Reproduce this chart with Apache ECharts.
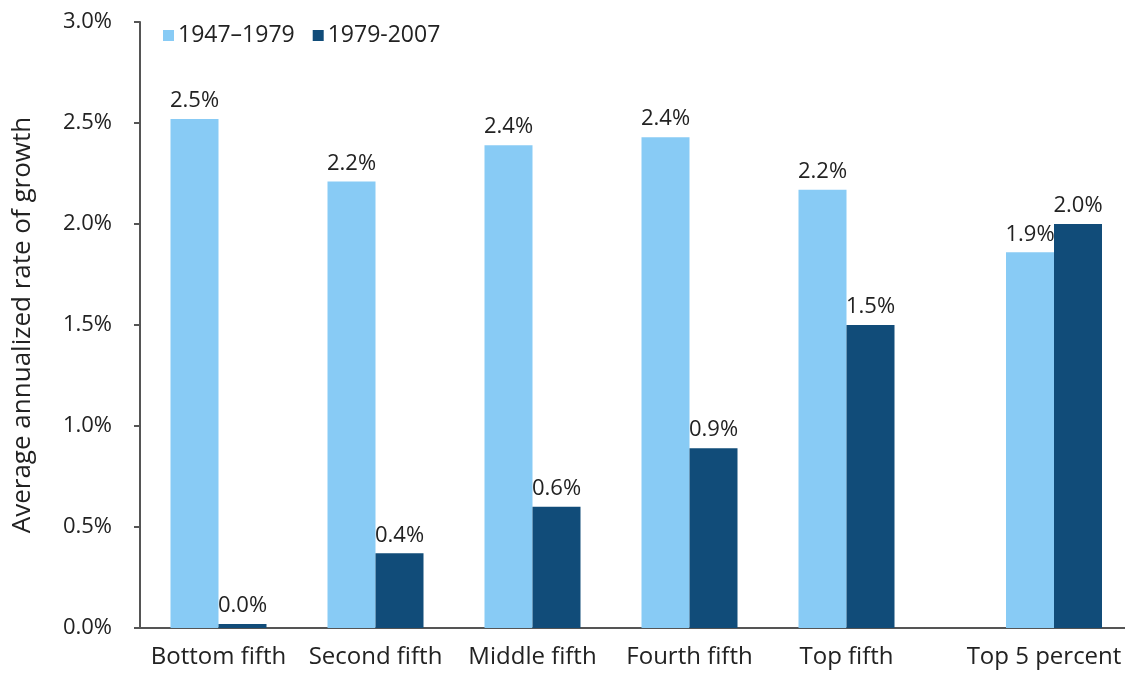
<!DOCTYPE html>
<html>
<head>
<meta charset="utf-8">
<script src="https://cdn.jsdelivr.net/npm/echarts@6/dist/echarts.min.js"></script>
<style>
  html, body { margin: 0; padding: 0; background: #fff; }
  #chart { width: 1125px; height: 675px; }
</style>
</head>
<body>
<div id="chart"></div>
<script>
// quintile groups (the last group sits a bit apart from the others)
const groups = ['Bottom fifth', 'Second fifth', 'Middle fifth', 'Fourth fifth', 'Top fifth']
const topGroup = ['Top 5 percent']
const seriesNames = ['1947–1979', '1979-2007']
const growth1947 = [2.52, 2.21, 2.39, 2.43, 2.17]
const growth1979 = [0.02, 0.37, 0.60, 0.89, 1.50]
const top1947 = [1.86]
const top1979 = [2.00]
const yTicks = [0, 0.5, 1.0, 1.5, 2.0, 2.5, 3.0]

const lightBlue = '#88CBF5'
const darkBlue = '#114C79'
const axisColor = '#555'
const fontName = 'Open Sans'

const chart = echarts.init(document.getElementById('chart'))

const labelStyle = {
  show: true,
  position: 'top',
  distance: 7,
  fontFamily: fontName,
  fontSize: 22,
  color: '#222',
  formatter: (p) => p.value.toFixed(1) + '%'
}

const makeBar = (name, data, color, axisIndex) => ({
  name: name,
  type: 'bar',
  xAxisIndex: axisIndex,
  yAxisIndex: axisIndex,
  data: data,
  barWidth: 48,
  barGap: '0%',
  itemStyle: { color: color },
  label: labelStyle
})

const xAxisBase = (gridIndex, data, labelPad) => ({
  type: 'category',
  gridIndex: gridIndex,
  data: data,
  axisTick: { show: false },
  axisLine: { show: true, lineStyle: { color: axisColor, width: 2 } },
  axisLabel: {
    interval: 0,
    fontFamily: fontName,
    fontSize: 24,
    color: '#222',
    margin: 17,
    padding: labelPad
  }
})

chart.setOption({
  backgroundColor: '#fff',
  animation: false,
  legend: {
    data: seriesNames,
    left: 158,
    top: 19,
    icon: 'rect',
    itemWidth: 11,
    itemHeight: 11,
    itemGap: 18,
    itemStyle: { borderWidth: 0 },
    textStyle: { fontFamily: fontName, fontSize: 23, color: '#222', padding: [0, 0, 0, -1] }
  },
  // second grid runs past the right edge so the last pair sits further out
  grid: [
    { left: 140, right: 200, top: 22, bottom: 47, outerBoundsMode: 'none' },
    { left: 925, right: -58, top: 22, bottom: 47, outerBoundsMode: 'none' }
  ],
  xAxis: [xAxisBase(0, groups, 0), xAxisBase(1, topGroup, [0, 20, 0, 0])],
  yAxis: [
    {
      type: 'value',
      gridIndex: 0,
      min: yTicks[0],
      max: yTicks[yTicks.length - 1],
      interval: 0.5,
      name: 'Average annualized rate of growth',
      nameLocation: 'middle',
      nameGap: 104,
      nameRotate: 90,
      nameTextStyle: { fontFamily: fontName, fontSize: 26, color: '#222' },
      axisLine: { show: true, lineStyle: { color: axisColor, width: 2 } },
      axisTick: { show: true, length: 6, lineStyle: { color: axisColor, width: 2 } },
      splitLine: { show: false },
      axisLabel: {
        fontFamily: fontName,
        fontSize: 22,
        color: '#222',
        margin: 28,
        formatter: (v) => v.toFixed(1) + '%'
      }
    },
    {
      type: 'value',
      gridIndex: 1,
      min: yTicks[0],
      max: yTicks[yTicks.length - 1],
      interval: 0.5,
      show: false
    }
  ],
  series: [
    makeBar(seriesNames[0], growth1947, lightBlue, 0),
    makeBar(seriesNames[1], growth1979, darkBlue, 0),
    makeBar(seriesNames[0], top1947, lightBlue, 1),
    makeBar(seriesNames[1], top1979, darkBlue, 1)
  ]
})
</script>
</body>
</html>
